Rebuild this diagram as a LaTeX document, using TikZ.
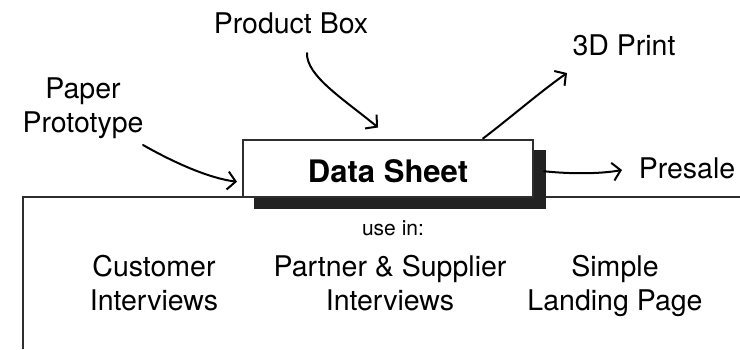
\documentclass[tikz,border=0pt]{standalone}
\usepackage{fontspec}
\setmainfont{TeX Gyre Heros}
\usetikzlibrary{arrows.meta,calc}
\definecolor{framegray}{HTML}{2E2E2E}
\definecolor{shadowgray}{HTML}{222222}
\tikzset{
  label/.style={font=\fontsize{28.5}{34}\selectfont, inner sep=0pt, outer sep=0pt, text=black},
  multilabel/.style={label, align=center},
  frameline/.style={draw=framegray, line width=2pt},
  sheetbox/.style={draw=framegray, fill=white, line width=2pt,
    minimum width=290pt, minimum height=57.5pt, inner sep=0pt,
    font=\bfseries\fontsize{31}{36}\selectfont, text height=27.5pt, text depth=0pt},
  arr/.style={draw=black, line width=2pt, line cap=round,
    -{Straight Barb[length=8pt,width=18pt,line width=2pt]}},
}
\begin{document}
\begin{tikzpicture}[x=1pt, y=-1pt]
\useasboundingbox (0,0) rectangle (740,349);

% frame line behind the card
\draw[frameline] (23,349) -- (23,197) -- (740,197);

% the card with its offset shadow
\path (388,168.25) node[sheetbox, draw=none, fill=none, text opacity=0] (ds) {Data Sheet};
\fill[shadowgray] ($(ds.south west)+(12,11)$) rectangle ($(ds.north east)+(12,11)$);
\node[sheetbox] at (ds) {Data Sheet};

% labels around the card
\node[label, anchor=base] (product) at (291,33) {Product Box};
\node[multilabel] (paper) at (83,109) {\strut Paper\\Prototype\strut};
\node[label, anchor=base] (print) at (624,55) {3D Print};
\node[label, anchor=base] (presale) at (687,178) {Presale};

% uses below the card
\node[label, font=\fontsize{21}{25}\selectfont, anchor=base] (usein) at (393,235) {use in:};
\node[multilabel] (cust) at (154,287) {\strut Customer\\Interviews\strut};
\node[multilabel] (partner) at (390,287) {\strut Partner \& Supplier\\Interviews\strut};
\node[multilabel] (landing) at (615,287) {\strut Simple\\Landing Page\strut};

% arrow end points next to the labels
\coordinate (paper-out) at (143,145);
\coordinate (product-out) at (307,53);
\coordinate (print-in) at (567,73);
\coordinate (presale-in) at (622,170);

% connectors
\draw[arr] (paper-out) .. controls (173,162) and (208,178) .. ($(ds.west)+(-5,13.5)$);
\draw[arr] (product-out) .. controls (306,76) and (345,100) .. ($(ds.north)+(-10,-11)$);
\draw[arr] ($(ds.north)+(95,0)$) .. controls (510,118) and (540,92) .. (print-in);
\draw[arr] ($(ds.east)+(10,3)$) .. controls (570,174) and (600,174) .. (presale-in);
\end{tikzpicture}
\end{document}
